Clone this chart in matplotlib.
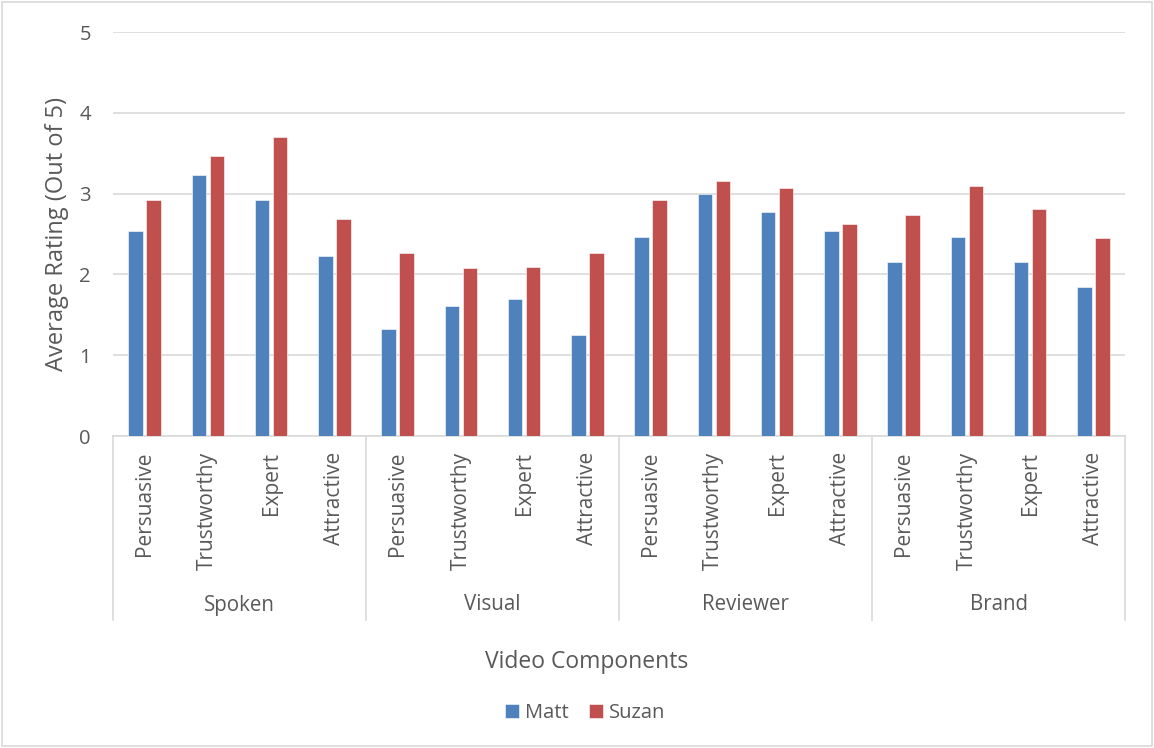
import matplotlib
matplotlib.use("Agg")
import matplotlib.pyplot as plt
import matplotlib.transforms as mtransforms
from matplotlib.lines import Line2D
from matplotlib.patches import Rectangle
import numpy as np

groups = ["Spoken", "Visual", "Reviewer", "Brand"]
traits = ["Persuasive", "Trustworthy", "Expert", "Attractive"]
matt = [2.54, 3.23, 2.92, 2.23,
        1.32, 1.61, 1.69, 1.25,
        2.46, 3.00, 2.77, 2.54,
        2.15, 2.46, 2.15, 1.84]
suzan = [2.92, 3.47, 3.70, 2.69,
         2.26, 2.08, 2.09, 2.26,
         2.92, 3.16, 3.07, 2.62,
         2.73, 3.09, 2.81, 2.45]
yticks = [0, 1, 2, 3, 4, 5]

W, H = 1154, 748
blue = "#4F81BD"
red = "#C0504D"
txt = "#595959"
grid = "#D9D9D9"

plt.rcParams["font.family"] = ["Open Sans", "DejaVu Sans"]

fig = plt.figure(figsize=(W / 100, H / 100), dpi=100)
fig.patches.append(Rectangle((2 / W, 2 / H), 1 - 4 / W, 1 - 4 / H, transform=fig.transFigure,
                             fill=False, edgecolor=grid, linewidth=1.2))

left, right, top, bottom = 113, 1125, 32, 436
ax = fig.add_axes([left / W, 1 - bottom / H, (right - left) / W, (bottom - top) / H])

x = np.arange(len(matt))
bw = 0.23
ax.bar(x - 0.142, matt, bw, color=blue, edgecolor="white", linewidth=0.4, label="Matt", zorder=3)
ax.bar(x + 0.142, suzan, bw, color=red, edgecolor="white", linewidth=0.4, label="Suzan", zorder=3)

ax.set_xlim(-0.5, len(matt) - 0.5)
ax.set_ylim(0, 5)
ax.set_yticks(yticks)
ax.set_yticklabels([str(t) for t in yticks], fontsize=14.5, color=txt)
ax.tick_params(axis="y", length=0, pad=16)
ax.set_xticks([])
for s in ["top", "right", "left"]:
    ax.spines[s].set_visible(False)
ax.spines["bottom"].set_color(grid)
ax.spines["bottom"].set_linewidth(1.2)
ax.yaxis.grid(True, color=grid, linewidth=1.2, zorder=0)
ax.set_axisbelow(True)

# two-level category axis below the plot
trans = mtransforms.blended_transform_factory(ax.transData, fig.transFigure)
for i in range(len(matt)):
    ax.text(i, 1 - 452 / H, traits[i % 4], rotation=90, ha="center", va="top",
            fontsize=15, color=txt, transform=trans)

for g in range(len(groups) + 1):
    xb = g * 4 - 0.5
    ax.add_line(Line2D([xb, xb], [1 - 436 / H, 1 - 620 / H], color=grid, linewidth=1.2,
                       transform=trans, clip_on=False))
for g, name in enumerate(groups):
    ax.text(g * 4 + 1.5, 1 - 605 / H, name, ha="center", va="center",
            fontsize=14.8, color=txt, transform=trans)

fig.text(587 / W, 1 - 662 / H, "Video Components", ha="center", va="center",
         fontsize=16.5, color=txt)
fig.text(57 / W, 1 - 234 / H, "Average Rating (Out of 5)", rotation=90, ha="center",
         va="center", fontsize=17, color=txt)

leg = fig.legend(loc="center", bbox_to_anchor=(585 / W, 1 - 713 / H), ncol=2, frameon=False,
                 fontsize=14.5, handlelength=0.7, handleheight=0.7, handletextpad=0.3,
                 columnspacing=1.0)
for t in leg.get_texts():
    t.set_color(txt)

fig.savefig("out.png", dpi=100)
